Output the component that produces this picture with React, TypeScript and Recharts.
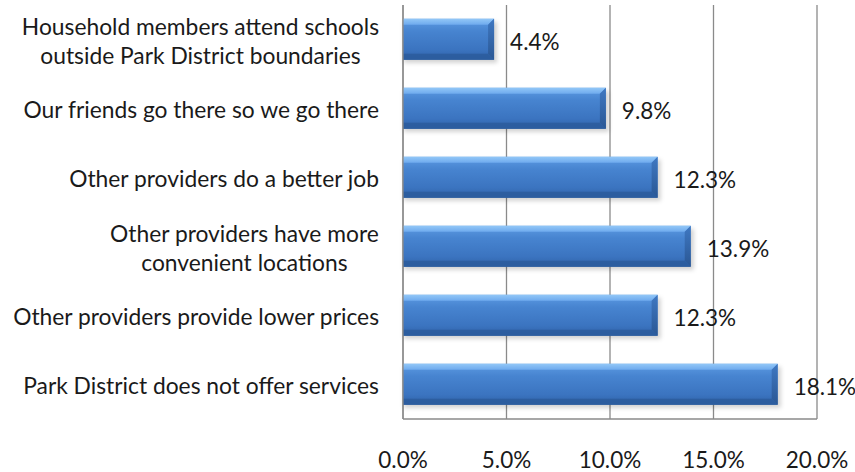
import React from "react";
import { BarChart, Bar, XAxis, YAxis, CartesianGrid, LabelList } from "recharts";

const categories: string[] = [
  "Household members attend schools\noutside Park District boundaries",
  "Our friends go there so we go there",
  "Other providers do a better job",
  "Other providers have more\nconvenient locations",
  "Other providers provide lower prices",
  "Park District does not offer services",
];
const values: number[] = [4.4, 9.8, 12.3, 13.9, 12.3, 18.1];
const xTicks: number[] = [0, 5, 10, 15, 20];

const data = categories.map((c, i) => ({ name: c, value: values[i] }));

const FONT = "Lato, 'Open Sans', sans-serif";
const FS = 22.8;
const VFS = 22.5;

let ctx: CanvasRenderingContext2D | null = null;
function measure(t: string): number {
  if (!ctx) {
    const c = document.createElement("canvas");
    ctx = c.getContext("2d");
  }
  if (!ctx) return t.length * FS * 0.5;
  ctx.font = `${FS}px Lato`;
  return ctx.measureText(t).width;
}

const YTick = (props: any) => {
  const { x, y, payload } = props;
  const lines: string[] = String(payload.value).split("\n");
  const right = x - 24;
  const maxW = Math.max(...lines.map(measure));
  const lh = 29;
  const start = y - ((lines.length - 1) * lh) / 2 + 2;
  return (
    <g>
      {lines.map((l, i) => (
        <text
          key={i}
          x={lines.length > 1 ? right - maxW / 2 : right}
          y={start + i * lh}
          dy="0.35em"
          textAnchor={lines.length > 1 ? "middle" : "end"}
          fontFamily={FONT}
          fontSize={FS}
          fill="#1a1a1a"
        >
          {l}
        </text>
      ))}
    </g>
  );
};

const XTick = (props: any) => {
  const { x, y, payload } = props;
  return (
    <text x={x} y={y + 41} dy="0.35em" textAnchor="middle" fontFamily={FONT} fontSize={VFS} fill="#1a1a1a">
      {`${Number(payload.value).toFixed(1)}%`}
    </text>
  );
};

const ValueLabel = (props: any) => {
  const { x, y, width, height, value } = props;
  return (
    <text
      x={x + width + 16}
      y={y + height / 2 + 3}
      dy="0.35em"
      textAnchor="start"
      fontFamily={FONT}
      fontSize={VFS}
      fill="#1a1a1a"
    >
      {`${Number(value).toFixed(1)}%`}
    </text>
  );
};

const BevelBar = (props: any) => {
  const { x, y, width, height } = props;
  if (width <= 0) return null;
  const b = 6;
  return (
    <g>
      <rect x={x + 1} y={y + 3} width={width + 2} height={height} fill="rgba(0,0,0,0.18)" filter="url(#barShadow)" />
      <rect x={x} y={y} width={width} height={height} fill="url(#barGrad)" />
      <polygon
        points={`${x},${y} ${x + width},${y} ${x + width - b},${y + b} ${x},${y + b}`}
        fill="url(#topGrad)"
      />
      <polygon
        points={`${x},${y + height} ${x + width},${y + height} ${x + width - b},${y + height - b} ${x},${y + height - b}`}
        fill="#2c5c9c"
        opacity={0.85}
      />
      <polygon
        points={`${x + width - b},${y + b} ${x + width},${y} ${x + width},${y + height} ${x + width - b},${y + height - b}`}
        fill="url(#endGrad)"
      />
    </g>
  );
};

export default function App() {
  return (
    <div style={{ position: "absolute", left: 0, top: 0, width: 855, height: 472, background: "#fff" }}>
      <BarChart
        width={855}
        height={472}
        data={data}
        layout="vertical"
        margin={{ top: 5, right: 38, bottom: 0, left: 0 }}
        barCategoryGap="20%"
      >
        <defs>
          <linearGradient id="barGrad" x1="0" y1="0" x2="0" y2="1">
            <stop offset="0%" stopColor="#5d9be3" />
            <stop offset="30%" stopColor="#4784d0" />
            <stop offset="75%" stopColor="#3b74c0" />
            <stop offset="100%" stopColor="#2f62a8" />
          </linearGradient>
          <linearGradient id="topGrad" x1="0" y1="0" x2="0" y2="1">
            <stop offset="0%" stopColor="#92c7f7" />
            <stop offset="100%" stopColor="#6eaaee" />
          </linearGradient>
          <linearGradient id="endGrad" x1="0" y1="0" x2="0" y2="1">
            <stop offset="0%" stopColor="#3f78c2" />
            <stop offset="100%" stopColor="#2a5794" />
          </linearGradient>
          <filter id="barShadow" x="-5%" y="-20%" width="110%" height="150%">
            <feGaussianBlur stdDeviation="2" />
          </filter>
        </defs>
        <CartesianGrid horizontal={false} vertical stroke="#8a8a8a" strokeWidth={1.3} />
        <XAxis
          type="number"
          domain={[0, 20]}
          ticks={xTicks}
          interval={0}
          tick={<XTick />}
          tickLine={false}
          axisLine={{ stroke: "#8a8a8a", strokeWidth: 1.3 }}
          height={53}
          tickSize={0}
          tickMargin={0}
        />
        <YAxis
          type="category"
          dataKey="name"
          width={403}
          tick={<YTick />}
          tickLine={false}
          axisLine={{ stroke: "#8a8a8a", strokeWidth: 1.3 }}
          tickSize={0}
          tickMargin={0}
          interval={0}
        />
        <Bar dataKey="value" isAnimationActive={false} shape={<BevelBar />}>
          <LabelList dataKey="value" content={<ValueLabel />} />
        </Bar>
      </BarChart>
    </div>
  );
}
